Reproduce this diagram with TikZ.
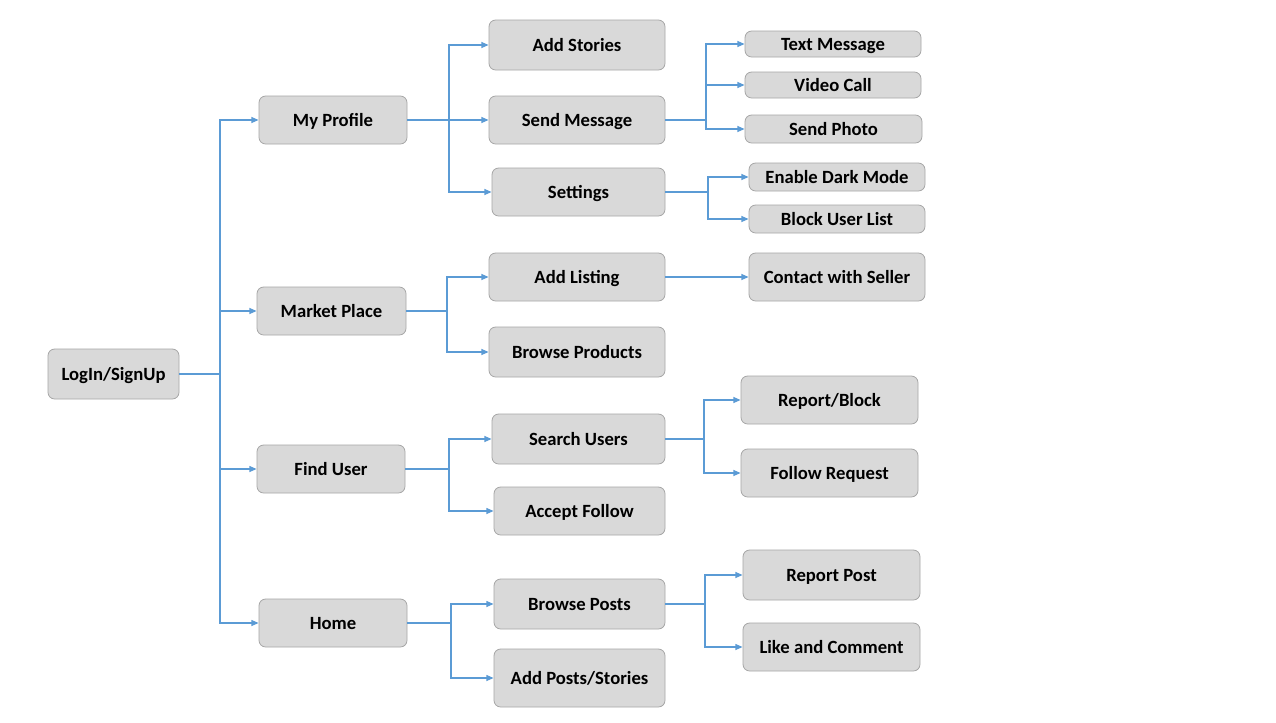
\documentclass[tikz,border=0pt]{standalone}
\usepackage{fontspec}
\setmainfont{Carlito}
\usetikzlibrary{arrows.meta}
\definecolor{boxfill}{HTML}{D9D9D9}
\definecolor{boxline}{HTML}{A6A6A6}
\definecolor{conn}{HTML}{5B9BD5}
\tikzset{
  bx/.style 2 args={draw=boxline, fill=boxfill, line width=0.6pt, rounded corners=5pt,
    minimum width=#1*0.75pt, minimum height=#2*0.75pt, inner sep=0pt,
    text height=10pt, text depth=1pt,
    font=\fontsize{14}{16}\selectfont\bfseries},
  ln/.style={draw=conn, line width=1.1pt},
  arr/.style={ln, -{Triangle[length=5.5pt,width=4.5pt]}}
}
\begin{document}
\begin{tikzpicture}[x=0.75pt,y=-0.75pt]
\path[use as bounding box, fill=white] (0,0) rectangle (1276,722);
% level 0
\node[bx={131}{50}] (login) at (113.5,374) {LogIn/SignUp};
% level 1
\node[bx={148}{48}] (prof) at (333,120) {My Profile};
\node[bx={149}{48}] (market) at (331.5,311) {Market Place};
\node[bx={148}{48}] (find) at (331,469) {Find User};
\node[bx={148}{48}] (home) at (333,623) {Home};
% level 2
\node[bx={176}{50}] (stories) at (577,45) {Add Stories};
\node[bx={176}{48}] (sendmsg) at (577,120) {Send Message};
\node[bx={173}{48}] (settings) at (578.5,192) {Settings};
\node[bx={176}{48}] (listing) at (577,277) {Add Listing};
\node[bx={176}{50}] (browseprod) at (577,352) {Browse Products};
\node[bx={173}{50}] (search) at (578.5,439) {Search Users};
\node[bx={171}{48}] (accept) at (579.5,511) {Accept Follow};
\node[bx={171}{50}] (browseposts) at (579.5,604) {Browse Posts};
\node[bx={171}{58}] (addposts) at (579.5,678) {Add Posts/Stories};
% level 3
\node[bx={176}{26}] (text) at (833,44) {Text Message};
\node[bx={176}{26}] (video) at (833,85) {Video Call};
\node[bx={177}{28}] (photo) at (833.5,129) {Send Photo};
\node[bx={176}{28}] (dark) at (837,177) {Enable Dark Mode};
\node[bx={176}{28}] (block) at (837,219) {Block User List};
\node[bx={176}{48}] (seller) at (837,277) {Contact with Seller};
\node[bx={177}{48}] (report) at (829.5,400) {Report/Block};
\node[bx={177}{48}] (follow) at (829.5,473) {Follow Request};
\node[bx={177}{50}] (reportpost) at (831.5,575) {Report Post};
\node[bx={177}{48}] (like) at (831.5,647) {Like and Comment};
% junctions
\coordinate (j0) at (220,374);
\coordinate (j1) at (449,120);
\coordinate (j2) at (447,311);
\coordinate (j3) at (449,469);
\coordinate (j4) at (451,623);
\coordinate (j5) at (706,120);
\coordinate (j6) at (708,192);
\coordinate (j7) at (704,439);
\coordinate (j8) at (705,604);
% connectors
\draw[ln] (login.east) -- (j0);
\foreach \c in {prof,market,find,home} \draw[arr] (j0) |- (\c.west);
\draw[ln] (prof.east) -- (j1);
\foreach \c in {stories,sendmsg,settings} \draw[arr] (j1) |- (\c.west);
\draw[ln] (market.east) -- (j2);
\foreach \c in {listing,browseprod} \draw[arr] (j2) |- (\c.west);
\draw[ln] (find.east) -- (j3);
\foreach \c in {search,accept} \draw[arr] (j3) |- (\c.west);
\draw[ln] (home.east) -- (j4);
\foreach \c in {browseposts,addposts} \draw[arr] (j4) |- (\c.west);
\draw[ln] (sendmsg.east) -- (j5);
\foreach \c in {text,video,photo} \draw[arr] (j5) |- (\c.west);
\draw[ln] (settings.east) -- (j6);
\foreach \c in {dark,block} \draw[arr] (j6) |- (\c.west);
\draw[arr] (listing.east) -- (seller.west);
\draw[ln] (search.east) -- (j7);
\foreach \c in {report,follow} \draw[arr] (j7) |- (\c.west);
\draw[ln] (browseposts.east) -- (j8);
\foreach \c in {reportpost,like} \draw[arr] (j8) |- (\c.west);
\end{tikzpicture}
\end{document}
